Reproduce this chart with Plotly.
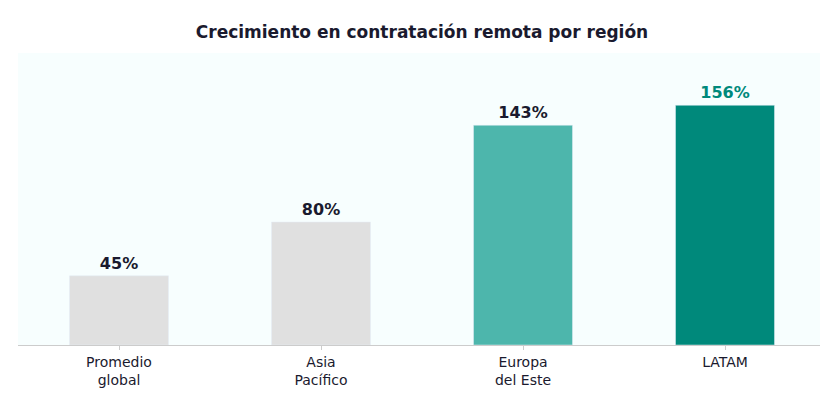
import plotly.graph_objects as go

categories = ["Promedio<br>global", "Asia<br>Pacífico", "Europa<br>del Este", "LATAM"]
values = [45, 80, 143, 156]
labels = ["45%", "80%", "143%", "156%"]
colors = ["#e0e0e0", "#e0e0e0", "#4db6ac", "#00897b"]
label_colors = ["#1a1a2e", "#1a1a2e", "#1a1a2e", "#00897b"]

fig = go.Figure(go.Bar(
    x=categories, y=values, width=0.49, marker_color=colors,
    text=labels, textposition="outside", cliponaxis=False,
    textfont=dict(family="DejaVu Sans", size=16, color=label_colors, weight="bold"),
))
fig.update_layout(
    width=828, height=402,
    margin=dict(l=10, r=10, t=45, b=65),
    paper_bgcolor="white", plot_bgcolor="#f7fefe",
    title=dict(text="<b>Crecimiento en contratación remota por región</b>", x=0.5, y=0.955,
               font=dict(family="DejaVu Sans", size=17, color="#1a1a2e")),
    font=dict(family="DejaVu Sans"),
    showlegend=False, bargap=0.5,
)
fig.update_xaxes(tickfont=dict(size=14, color="#1a1a2e"), showline=True, linecolor="#cccccc",
                 ticks="outside", ticklen=4, tickcolor="#cccccc")
fig.update_yaxes(range=[0, 190], visible=False, showgrid=False)
fig.add_annotation(text="<i>Fuente: Second Talent / Upwork, 2026</i>", xref="paper", yref="paper",
                   x=1, y=-0.2, xanchor="right", yanchor="top", showarrow=False,
                   font=dict(size=11, color="#888888"))
fig.write_html("out.html")
